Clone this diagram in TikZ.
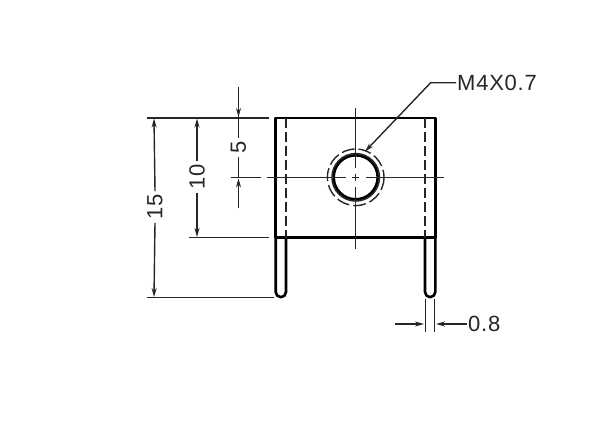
\documentclass[tikz,border=0pt]{standalone}
\usepackage{fontspec}
\setmainfont[LetterSpace=3.5]{Liberation Sans}
\usetikzlibrary{arrows.meta}

\begin{document}
\begin{tikzpicture}
	[x=1pt,y=-1pt,>={Stealth[length=9pt,width=5pt]},line cap=butt]
	\tikzstyle{outline}=[line width=2.6pt, line join=round];
	\tikzstyle{thin}=[line width=1.4pt, black!85];
	\tikzstyle{hidden}=[line width=1.4pt, black!85, dash pattern=on 10pt off 4pt];
	\tikzstyle{dim}=[inner sep=1pt, font=\fontsize{22}{22}\selectfont, text=black!85];
	\tikzstyle{dimv}=[dim, rotate=90, inner sep=3pt];

	\useasboundingbox (0,0) rectangle (600,432);

	\coordinate (C) at (355.7,177.3);
	\coordinate (TL) at (275.7,118);
	\coordinate (TR) at (435.3,118);
	\coordinate (BL) at (275.7,237.5);
	\coordinate (BR) at (435.3,237.5);
	\coordinate (PL) at (286,237.5);
	\coordinate (PR) at (425,237.5);

	% body and pins
	\draw[outline] (BL) -- (TL) -- (TR) -- (BR) -- cycle;
	\draw[outline] (BL) -- (275.7,292) arc[start angle=180,end angle=0,radius=5.15] -- (PL);
	\draw[outline] (PR) -- (425,292) arc[start angle=180,end angle=0,radius=5.15] -- (BR);
	\draw[hidden] (286,118) -- (PL);
	\draw[hidden] (425,118) -- (PR);

	% hole
	\draw[outline] (C) circle (22);
	\draw[thin] (C) circle (23.8);
	\draw[thin, dash pattern=on 13pt off 4pt] (C) circle (28.3);

	% centre lines
	\draw[thin] (267,177.3) -- (346,177.3) (352,177.3) -- (359,177.3) (366,177.3) -- (444,177.3);
	\draw[thin] (355.7,108) -- (355.7,167.5) (355.7,174) -- (355.7,181) (355.7,187) -- (355.7,249);

	% leader
	\node[dim, anchor=west] (thread) at (456,82.7) {M4X0.7};
	\coordinate (knee) at (430.7,82.7);
	\draw[thin,->] (thread.west) -- (knee) -- (365,151.5);

	% extension lines
	\coordinate (E15a) at (147,118);
	\coordinate (E15b) at (147,297.5);
	\coordinate (E10b) at (189,237.5);
	\draw[thin] (E15a) -- (269,118);
	\draw[thin] (E10b) -- (269,237.5);
	\draw[thin] (E15b) -- (274,297.5);
	\draw[thin] (230.7,177.3) -- (261,177.3);
	\draw[thin] (425.3,299) -- (425.3,332);
	\draw[thin] (434.5,299) -- (434.5,332);

	% dimension labels
	\node[dimv] (d15) at (155,207) {15};
	\node[dimv] (d10) at (197,177) {10};
	\node[dimv] (d5) at (238.5,147.5) {5};
	\node[dim, anchor=west] (d08) at (467,324) {0.8};

	\draw[thin,->] (d15.east) -- (154,118.5);
	\draw[thin,->] (d15.west) -- (154,297);
	\draw[thin,->] (d10.east) -- (197,118.5);
	\draw[thin,->] (d10.west) -- (197,237);
	\draw[thin,->] (238.5,87) -- (238.5,117);
	\draw[thin] (238.5,116) -- (d5.east);
	\draw[thin] (d5.west) -- (238.5,178);
	\draw[thin,->] (238.5,208) -- (238.5,178.5);
	\draw[thin,->] (395,324) -- (424,324);
	\draw[thin,->] (d08.west) -- (436,324);
\end{tikzpicture}
\end{document}
